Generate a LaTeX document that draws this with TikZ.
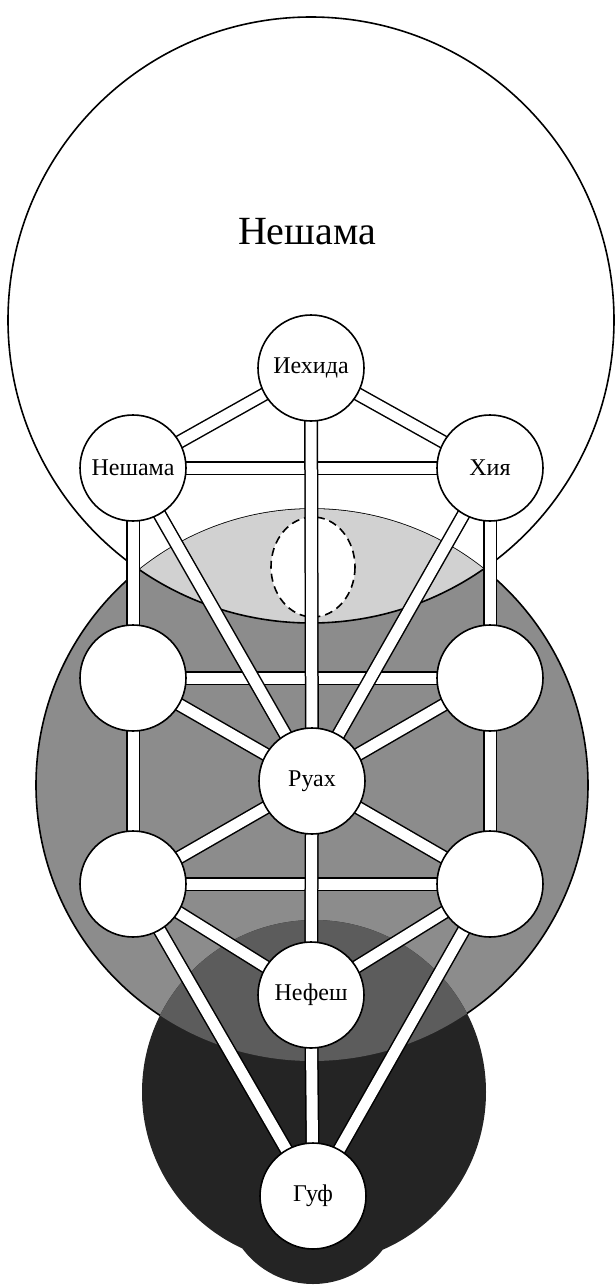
\documentclass[tikz,border=0pt]{standalone}
\usepackage{fontspec}
\setmainfont{Liberation Serif}
\pgfdeclarelayer{back}
\pgfdeclarelayer{paths}
\pgfsetlayers{back,paths,main}
\colorlet{lensgrey}{black!18}
\colorlet{ruachgrey}{black!45}
\colorlet{nefeshgrey}{black!64}
\colorlet{gufdark}{black!86}
\tikzset{
  sefira/.style={circle,draw,fill=white,line width=0.8pt,minimum size=53pt,inner sep=0pt,font=\fontsize{12}{14}\selectfont},
  channel/.style={line width=0.75pt,double=white,double distance=5.5pt},
  soul/.style={line width=0.8pt}
}
\begin{document}
\begin{tikzpicture}[x=0.5pt,y=-0.5pt]
\useasboundingbox (0,0) rectangle (615,1285);

% the sefirot
\node[sefira] (yechida) at (311,368) {Иехида};
\node[sefira] (neshama) at (133,468) {Нешама};
\node[sefira] (chaya) at (490,468) {Хия};
\node[sefira] (midl) at (133,678) {};
\node[sefira] (midr) at (490,678) {};
\node[sefira] (ruach) at (312,781) {Руах};
\node[sefira] (lowl) at (133,884) {};
\node[sefira] (lowr) at (490,884) {};
\node[sefira] (nefesh) at (311,995) {Нефеш};
\node[sefira] (guf) at (313,1196) {Гуф};
\node[font=\fontsize{20}{24}\selectfont] (title) at (307,232) {Нешама};

% the three soul circles
\begin{pgfonlayer}{back}
  \draw[soul,fill=white] (311,320) circle[radius=303];
  \draw[soul,fill=ruachgrey] (312,785) circle[radius=276];
  \begin{scope}
    \clip (312,785) circle[radius=276];
    \draw[soul,fill=lensgrey] (311,320) circle[radius=303];
  \end{scope}
  \fill[gufdark] (314,1092) circle[radius=172] (313,1196) circle[radius=88];
  \begin{scope}
    \clip (312,785) circle[radius=276];
    \fill[nefeshgrey] (314,1092) circle[radius=172];
  \end{scope}
  \draw[soul,fill=white,dash pattern=on 4pt off 2.5pt] (313,567) ellipse[x radius=42,y radius=50];
\end{pgfonlayer}

% the channels
\begin{pgfonlayer}{paths}
  \foreach \a/\b in {neshama/chaya,midl/midr,lowl/lowr}
    \draw[channel] (\a.center) -- (\b.center);
  \foreach \a/\b in {yechida/neshama,yechida/chaya,neshama/ruach,chaya/ruach,midl/ruach,midr/ruach,lowl/ruach,lowr/ruach,lowl/nefesh,lowr/nefesh,lowl/guf,lowr/guf}
    \draw[channel] (\a.center) -- (\b.center);
  \foreach \a/\b in {neshama/midl,midl/lowl,chaya/midr,midr/lowr,yechida/ruach,ruach/nefesh,nefesh/guf}
    \draw[channel] (\a.center) -- (\b.center);
\end{pgfonlayer}
\end{tikzpicture}
\end{document}
